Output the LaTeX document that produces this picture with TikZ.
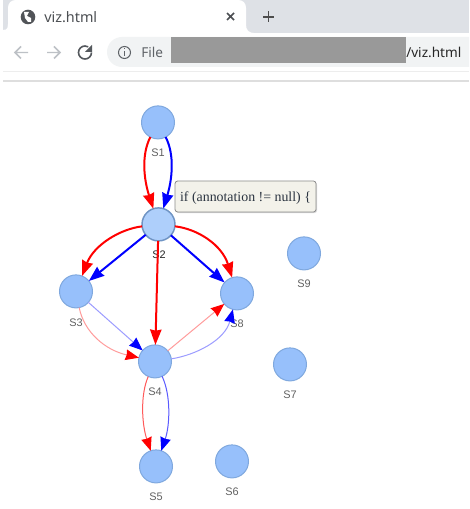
\documentclass[tikz,border=0pt]{standalone}
\usepackage{fontspec}
\setmainfont{Liberation Sans}
\newfontfamily\uifont{Noto Sans}
\newfontfamily\tipfont{Liberation Serif}
\usetikzlibrary{arrows.meta,shadows}
\definecolor{nodefill}{HTML}{97C0FB}
\definecolor{nodeedge}{HTML}{7FA8DE}
\definecolor{hoverfill}{HTML}{AECFFB}
\definecolor{hoveredge}{HTML}{6F94C4}
\definecolor{tabbg}{HTML}{DEE1E6}
\definecolor{pill}{HTML}{F1F3F4}
\definecolor{uitext}{HTML}{5F6368}
\definecolor{dimicon}{HTML}{BDC1C6}
\definecolor{lightred}{HTML}{FF9C9C}
\definecolor{lightblue}{HTML}{9C9CFF}
\definecolor{midred}{HTML}{FF5A5A}
\definecolor{midblue}{HTML}{5A5AFF}
\definecolor{tipbg}{HTML}{F3F2EA}
\definecolor{tiptext}{HTML}{2B3440}
\tikzset{
  x=0.75pt,y=-0.75pt,
  st/.style={circle,draw=nodeedge,fill=nodefill,line width=0.75pt,minimum size=24.75pt,inner sep=0pt,outer sep=0pt},
  hover/.style={st,draw=hoveredge,fill=hoverfill,line width=1.1pt},
  lab/.style={font=\fontsize{8.2}{10}\selectfont,text=black!62,inner sep=0pt},
  thickred/.style={red,line width=1.5pt,-{Stealth[length=11.5pt,width=8.5pt,inset=0.8pt]}},
  thickblue/.style={blue,line width=1.5pt,-{Stealth[length=11.5pt,width=8.5pt,inset=0.8pt]}},
  fadered/.style={lightred,line width=0.75pt,-{Stealth[length=10pt,width=8pt,inset=0.6pt,color=red]}},
  fadeblue/.style={lightblue,line width=0.75pt,-{Stealth[length=10pt,width=8pt,inset=0.6pt,color=blue]}},
  thinred/.style={midred,line width=0.75pt,-{Stealth[length=10pt,width=8pt,inset=0.6pt,color=red]}},
  thinblue/.style={midblue,line width=0.75pt,-{Stealth[length=10pt,width=8pt,inset=0.6pt,color=blue]}},
  tooltip/.style={draw=black!45,fill=tipbg,rounded corners=2pt,line width=0.6pt,
    drop shadow={shadow xshift=0.8pt,shadow yshift=-0.8pt,opacity=0.3},
    minimum width=105.75pt,minimum height=23.25pt,inner sep=0pt,
    font=\tipfont\fontsize{10.4}{12}\selectfont,text=tiptext},
  uilab/.style={font=\uifont\fontsize{10.2}{12}\selectfont,inner sep=0pt},
}
\begin{document}
\begin{tikzpicture}
\useasboundingbox (0,0) rectangle (469,509);
\fill[white] (0,0) rectangle (469,509);
% browser chrome
\fill[tabbg] (3,0) rectangle (469,33);
\fill[white] (3,33) -- (3,30) .. controls (8,30) and (8,27) .. (8,24) -- (8,8)
  .. controls (8,3) and (11,0) .. (16,0) -- (238,0) .. controls (243,0) and (246,3) .. (246,8)
  -- (246,25) .. controls (246,30) and (249,33) .. (254,33) -- cycle;
\fill[white] (0,33) rectangle (469,72);
\fill[uitext!85!black] (28,17) circle (7.3);
\fill[white] (24,12) -- (29,12) -- (27,16) -- (31,18) -- (31,22) -- (28,22) -- (25,18) -- cycle;
\node[uilab,font=\uifont\fontsize{10.8}{12}\selectfont,anchor=west,text=uitext!80!black] (tabtitle) at (44,17) {viz.html};
\draw[uitext!80!black,line width=1.2pt] (227,13) -- (234,20) (234,13) -- (227,20);
\draw[black!70,line width=1.2pt] (263,17) -- (274,17) (268.5,11.5) -- (268.5,22.5);
% toolbar icons
\draw[dimicon,line width=1.1pt] (28,52.5) -- (15,52.5) (21,46.5) -- (15,52.5) -- (21,58.5);
\draw[dimicon,line width=1.1pt] (47,52.5) -- (60,52.5) (54,46.5) -- (60,52.5) -- (54,58.5);
\draw[uitext!90!black,line width=1.2pt] (91.5,52.5) arc[start angle=0,end angle=300,radius=6.5];
\fill[uitext!90!black] (92,45) -- (92,52) -- (85,52) -- cycle;
% address bar
\fill[pill] (122,37) -- (469,37) -- (469,67) -- (122,67) arc[start angle=90,end angle=270,radius=15] -- cycle;
\draw[uitext,line width=0.8pt] (124.5,52.5) circle (6);
\draw[uitext,line width=1pt] (124.5,51) -- (124.5,56) (124.5,48) -- (124.5,49.2);
\node[uilab,anchor=west,text=uitext] (filelab) at (141,52.5) {File};
\node[uilab,anchor=west,text=black!85] (urllab) at (406,52.5) {/viz.html};
\fill[black!40] (171,37) rectangle (406,63);
\draw[black!7,line width=0.9pt] (3,71.5) -- (469,71.5);
\draw[black!13,line width=0.9pt] (3,81) -- (469,81);
% graph nodes
\node[st] (s1) at (158,122.4) {};
\node[hover] (s2) at (158.5,224.4) {};
\node[st] (s3) at (76,291.4) {};
\node[st] (s8) at (237,293.4) {};
\node[st] (s4) at (155,361.4) {};
\node[st] (s5) at (156,466.4) {};
\node[st] (s6) at (232,461.4) {};
\node[st] (s7) at (290,364.4) {};
\node[st] (s9) at (304,253.4) {};
\node[lab] (l1) at (158,153) {S1};
\node[lab,text=black!85] (l2) at (159,254.5) {S2};
\node[lab] (l3) at (76,322.5) {S3};
\node[lab] (l8) at (237,323.5) {S8};
\node[lab] (l4) at (155,391.5) {S4};
\node[lab] (l5) at (156,496.5) {S5};
\node[lab] (l6) at (232,491.5) {S6};
\node[lab] (l7) at (290,394.5) {S7};
\node[lab] (l9) at (304,283.5) {S9};
% edges
\draw[thickred] (s1) .. controls (141,155) and (144,180) .. (s2);
\draw[thickblue] (s1) .. controls (175,155) and (172,180) .. (s2);
\draw[thickred] (s2) .. controls (120,229) and (94,245) .. (s3);
\draw[thickblue] (s2) -- (s3);
\draw[thickred] (s2) .. controls (198,229) and (222,245) .. (s8);
\draw[thickblue] (s2) -- (s8);
\draw[thickred] (s2) -- (s4);
\draw[fadeblue] (s3) -- (s4);
\draw[fadered] (s3) .. controls (84,332) and (105,350) .. (s4);
\draw[fadered] (s4) -- (s8);
\draw[fadeblue] (s4) .. controls (196,355) and (225,340) .. (s8);
\draw[thinred] (s4) .. controls (140,395) and (142,425) .. (s5);
\draw[thinblue] (s4) .. controls (171,395) and (170,425) .. (s5);
% tooltip
\node[tooltip] (tip) at (245.5,196.5) {\smash{\raisebox{-3.5pt}{if (annotation != null) \{}}};
\end{tikzpicture}
\end{document}
